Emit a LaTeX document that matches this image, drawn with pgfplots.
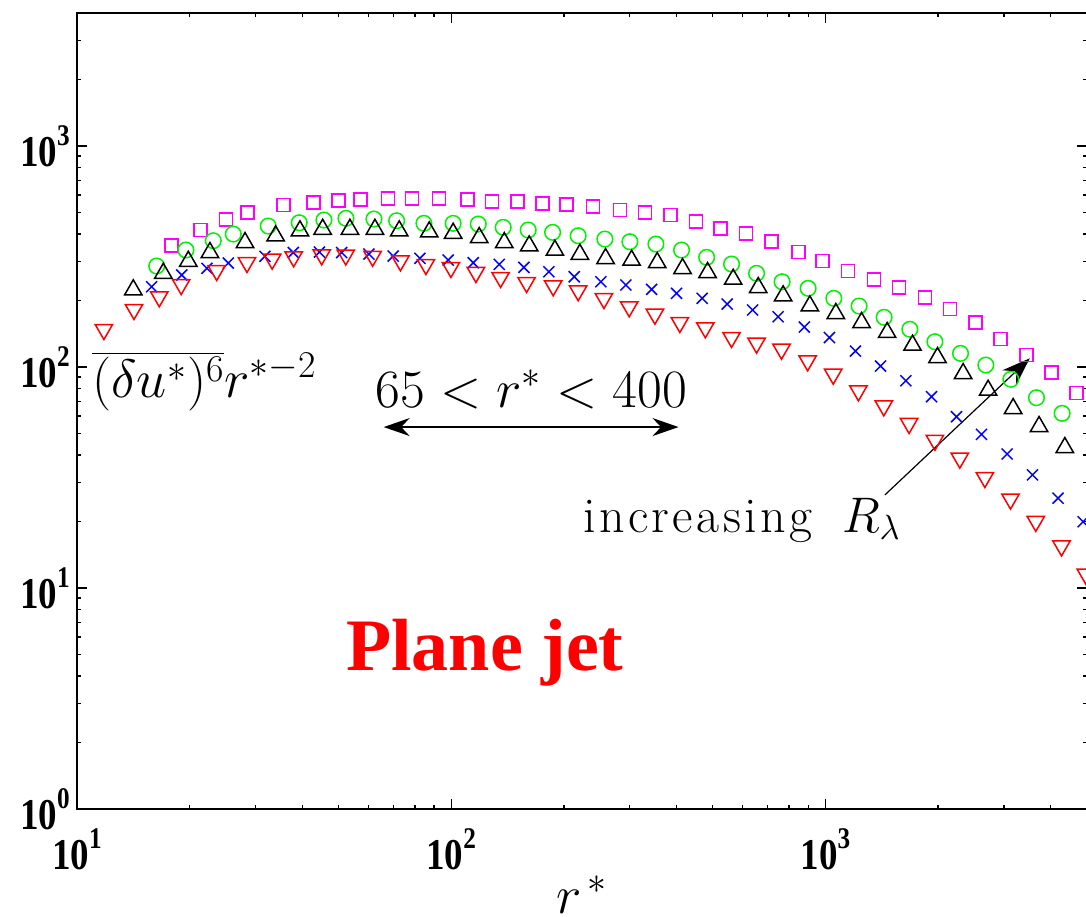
\RequirePackage{fix-cm}
\documentclass[border=0pt]{standalone}
\usepackage{fontspec}
\usepackage{pgfplots}
\pgfplotsset{compat=1.18}
\usetikzlibrary{arrows.meta}
\newfontfamily\tickfont[FakeStretch=0.84]{Liberation Serif}
\newfontfamily\titlefont{Liberation Serif}
\newcommand{\tl}[1]{{\tickfont\bfseries\fontsize{22}{22}\selectfont 10\raisebox{10.5pt}{\fontsize{15}{15}\selectfont #1}}}
\definecolor{mag}{rgb}{1,0,1}
\definecolor{grn}{rgb}{0,0.95,0}
\begin{document}
\begin{tikzpicture}
\begin{axis}[
  at={(0,0)}, anchor=south west,
  scale only axis, width=505pt, height=398pt,
  xmode=log, ymode=log,
  xmin=10, xmax=5000, ymin=1, ymax=4000,
  axis line style={line width=1pt},
  every tick/.style={black, line width=0.7pt},
  major tick length=5pt, minor tick length=2pt,
  xtick={10,100,1000}, xticklabels={\tl{1},\tl{2},\tl{3}},
  ytick={1,10,100,1000}, yticklabels={\tl{0},\tl{1},\tl{2},\tl{3}},
  minor xtick={20,30,40,50,60,70,80,90,200,300,400,500,600,700,800,900,2000,3000,4000},
  minor ytick={2,3,4,5,6,7,8,9,20,30,40,50,60,70,80,90,200,300,400,500,600,700,800,900,2000,3000},
  xticklabel style={anchor=north, inner sep=0pt, yshift=-9.5pt},
  yticklabel style={anchor=east, inner sep=0pt, xshift=-3.5pt},
  clip=false,
]
% magenta squares
\addplot[only marks, mark=square, mark size=3.25pt, color=mag, line width=0.75pt] table {
x y
17.91 353.9
21.41 416.9
25.01 465.9
28.58 501.2
35.59 540.8
42.79 556.3
49.91 565.7
57.28 574.0
67.86 579.9
78.66 579.9
92.70 579.9
110.5 574.0
128.7 559.8
150.4 559.8
175.1 550.4
203.4 544.7
239.6 531.3
282.3 513.3
329.3 501.2
385.8 487.3
450.6 454.5
524.5 424.2
612.9 402.7
717.8 369.0
846.6 330.7
982.4 301.7
1150 272.7
1347 249.4
1571 228.5
1844 205.9
2150 183.0
2518 159.4
2937 133.9
3446 113.3
4019 94.24
4688 76.49
};
% green circles
\addplot[only marks, mark=o, mark size=3.9pt, color=grn, line width=0.75pt] table {
x y
16.33 286.4
19.55 338.4
23.13 372.9
26.16 399.8
32.44 434.5
39.26 449.7
45.70 462.6
52.33 470.9
62.17 467.5
71.47 459.2
84.55 446.9
101.2 446.9
118.1 443.7
137.7 428.7
160.6 416.9
186.6 407.0
218.4 392.8
257.4 379.5
300.2 369.0
352.4 360.3
412.6 338.4
481.4 313.6
561.2 292.4
654.6 265.5
766.0 243.2
899.0 227.1
1053 204.6
1230 188.8
1435 167.9
1681 148.2
1961 130.2
2296 115.3
2683 102.1
3129 87.98
3664 72.62
4290 61.73
};
% black up triangles
\addplot[only marks, mark=triangle, mark size=5pt, color=black, line width=0.75pt, mark options={yshift=-1.25pt}] table {
x y
14.14 229.5
17.01 272.7
19.84 309.0
22.66 338.4
28.12 375.5
33.95 402.7
39.43 424.2
45.34 431.3
53.63 431.3
62.54 431.3
72.62 424.2
87.35 419.8
101.2 413.7
118.8 395.7
138.6 375.5
161.6 362.9
189.3 346.6
220.7 332.4
258.5 317.9
303.4 312.3
355.2 304.9
415.1 286.4
484.2 274.8
566.9 256.2
661.2 235.0
770.9 215.6
908.5 194.2
1066 179.2
1249 163.2
1462 147.1
1709 128.8
1993 113.3
2333 95.92
2721 80.59
3174 66.62
3723 55.23
4362 44.37
};
% blue crosses
\addplot[only marks, mark=x, mark size=3.9pt, color=blue, line width=0.75pt] table {
x y
15.83 230.9
19.05 260.9
22.25 279.7
25.37 295.5
31.79 316.9
37.84 329.7
44.45 331.4
50.97 329.7
60.27 324.5
69.98 317.9
82.49 310.4
98.17 304.9
114.5 296.4
134.4 291.5
156.4 282.5
182.4 269.9
213.2 256.2
251.1 243.2
292.9 235.0
343.2 224.7
400.1 215.6
468.3 204.6
546.4 192.8
638.8 181.1
747.4 168.9
878.2 151.7
1025 136.0
1203 118.1
1404 101.0
1640 86.7
1921 73.4
2240 59.6
2612 49.6
3058 40.4
3575 32.5
4184 25.5
4882 19.95
};
% red down triangles
\addplot[only marks, mark=triangle, mark size=5pt, color=red, line width=0.75pt, mark options={yshift=1.25pt, rotate=180}] table {
x y
11.80 144.0
14.20 177.4
16.59 202.5
18.99 230.1
23.62 266.3
28.46 289.4
33.23 299.6
37.93 307.2
45.07 313.6
52.27 313.0
61.66 308.8
73.16 294.6
85.58 283.5
99.82 274.8
116.4 260.9
135.5 247.6
159.0 235.0
187.3 227.1
218.4 215.6
255.9 198.9
299.0 182.4
350.2 168.9
408.3 154.9
477.6 146.6
561.2 132.5
654.6 124.9
763.3 117.3
896.3 103.9
1049 90.4
1225 76.0
1432 65.0
1673 54.1
1961 45.4
2286 37.7
2667 30.8
3123 24.6
3649 19.5
4274 15.1
4963 11.25
};
\node[anchor=base west, inner sep=0pt, font=\fontsize{27}{32}\selectfont] at (axis cs:10.97,73.15) {$\overline{(\delta u^*)^6}r^{*-2}$};
\node[anchor=base, inner sep=0pt, font=\fontsize{27}{32}\selectfont] at (axis cs:163.8,65.9) {$65 < r^* < 400$};
\draw[{Stealth[length=13pt,width=9pt]}-{Stealth[length=13pt,width=9pt]}, line width=0.75pt] (axis cs:66,53.5) -- (axis cs:405,53.5);
\node[anchor=base west, inner sep=0pt, font=\fontsize{25}{30}\selectfont] at (axis cs:224.9,17.92) {i\kern1.7pt n\kern1.7pt c\kern1.7pt r\kern1.7pt e\kern1.7pt a\kern1.7pt s\kern1.7pt i\kern1.7pt n\kern1.7pt g\ \ $R_\lambda$};
\draw[-{Stealth[length=14pt,width=10pt]}, line width=0.6pt] (axis cs:1441,26.35) -- (axis cs:3516,109.5);
\node[anchor=base, inner sep=0pt, text=red, font=\titlefont\bfseries\fontsize{37}{40}\selectfont] at (axis cs:123,4.256) {Plane jet};
\end{axis}
\node[anchor=base, inner sep=0pt, font=\fontsize{27}{32}\selectfont] at (252.5pt,-52pt) {$r^{\,*}$};
\pgfresetboundingbox
\path[use as bounding box] (-38.5pt,-53.5pt) rectangle (504.5pt,404.5pt);
\end{tikzpicture}
\end{document}
